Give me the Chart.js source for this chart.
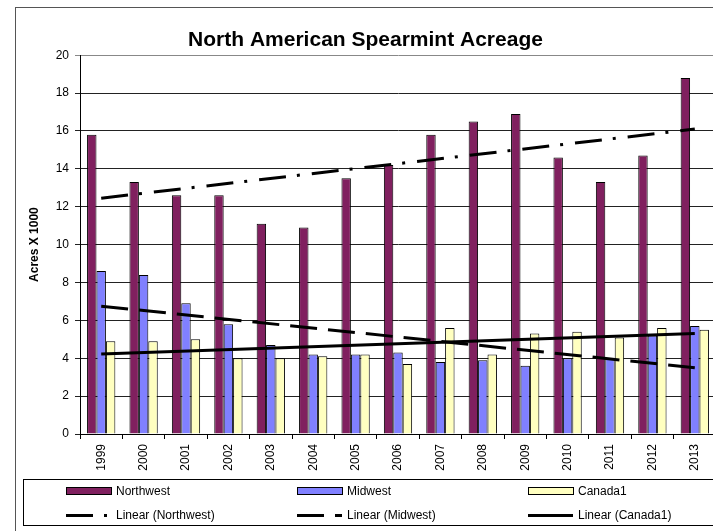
<!DOCTYPE html>
<html>
<head>
<meta charset="utf-8">
<script src="https://cdn.jsdelivr.net/npm/chart.js@4.4.0/dist/chart.umd.min.js"></script>
<style>
html, body { margin: 0; padding: 0; background: #fff; overflow: hidden; }
#wrap { position: absolute; left: 0; top: 0; width: 730px; height: 540px; }
</style>
</head>
<body>
<div id="wrap"><canvas id="chart" width="730" height="540"></canvas></div>
<script>
var years = ['1999', '2000', '2001', '2002', '2003', '2004', '2005', '2006', '2007', '2008', '2009', '2010', '2011', '2012', '2013'];
var northwest = [15.8, 13.3, 12.6, 12.6, 11.1, 10.9, 13.5, 14.2, 15.8, 16.5, 16.9, 14.6, 13.3, 14.7, 18.8];
var midwest = [8.6, 8.4, 6.9, 5.8, 4.7, 4.2, 4.2, 4.3, 3.8, 3.9, 3.6, 4.0, 4.0, 5.2, 5.7];
var canada = [4.9, 4.9, 5.0, 4.0, 4.0, 4.1, 4.2, 3.7, 5.6, 4.2, 5.3, 5.4, 5.1, 5.6, 5.5];
// trendline values at first and last year
var trendNorthwest = [12.45, 16.1];
var trendMidwest = [6.75, 3.5];
var trendCanada = [4.22, 5.31];
var yTicks = [0, 20, 2];

Chart.defaults.font.family = 'Arial, "Liberation Sans", sans-serif';
Chart.defaults.color = '#000';

var trend = function(ends) {
	return [{ x: years[0], y: ends[0] }, { x: years[years.length - 1], y: ends[1] }];
};

var frame = {
	id: 'frame',
	beforeDraw: function(chart) {
		var ctx = chart.ctx;
		ctx.save();
		ctx.strokeStyle = '#555';
		ctx.lineWidth = 1;
		ctx.strokeRect(15.5, 7.5, 760, 600);
		ctx.restore();
	}
};

var legendBox = {
	id: 'legendBox',
	afterDraw: function(chart) {
		var ctx = chart.ctx;
		var ds = chart.data.datasets;
		var cols = [66, 297, 528];
		ctx.save();
		ctx.strokeStyle = '#000';
		ctx.lineWidth = 1;
		ctx.strokeRect(23.5, 479.5, 720, 46);
		ctx.font = '12px Arial, "Liberation Sans", sans-serif';
		ctx.textBaseline = 'middle';
		for (var i = 0; i < 3; i++) {
			ctx.fillStyle = ds[i].backgroundColor;
			ctx.fillRect(cols[i], 488, 45, 7);
			ctx.strokeRect(cols[i] + 0.5, 487.5, 45, 7);
			ctx.fillStyle = '#000';
			ctx.fillText(ds[i].label, cols[i] + 50, 491.5);
			var t = ds[i + 3];
			ctx.beginPath();
			ctx.setLineDash(t.borderDash || []);
			ctx.lineWidth = 3;
			ctx.moveTo(cols[i], 515.5);
			ctx.lineTo(cols[i] + 45, 515.5);
			ctx.stroke();
			ctx.setLineDash([]);
			ctx.lineWidth = 1;
			ctx.fillText(t.label, cols[i] + 50, 515.5);
		}
		ctx.restore();
	}
};

var ctx = document.getElementById('chart');
var spearmintChart = new Chart(ctx, {
	type: 'bar',
	data: {
		labels: years,
		datasets: [
			{ label: 'Northwest', data: northwest, backgroundColor: '#80205f', borderColor: '#000', borderWidth: 1, order: 1 },
			{ label: 'Midwest', data: midwest, backgroundColor: '#8080ff', borderColor: '#000', borderWidth: 1, order: 1 },
			{ label: 'Canada1', data: canada, backgroundColor: '#ffffc0', borderColor: '#000', borderWidth: 1, order: 1 },
			{ type: 'line', label: 'Linear (Northwest)', data: trend(trendNorthwest), borderColor: '#000', borderWidth: 3, borderDash: [27, 11, 3, 12], pointRadius: 0, fill: false, order: 0 },
			{ type: 'line', label: 'Linear (Midwest)', data: trend(trendMidwest), borderColor: '#000', borderWidth: 3, borderDash: [27, 11], pointRadius: 0, fill: false, order: 0 },
			{ type: 'line', label: 'Linear (Canada1)', data: trend(trendCanada), borderColor: '#000', borderWidth: 3, pointRadius: 0, fill: false, order: 0 }
		]
	},
	options: {
		responsive: false,
		animation: false,
		categoryPercentage: 0.667,
		barPercentage: 1.0,
		layout: { padding: { left: 15, right: 14, top: 22, bottom: 66 } },
		plugins: {
			legend: { display: false },
			tooltip: { enabled: false },
			title: {
				display: true,
				text: 'North American Spearmint Acreage',
				font: { size: 21, weight: 'bold' },
				color: '#000',
				padding: { top: 6, bottom: 2 }
			}
		},
		scales: {
			x: {
				grid: { display: true, drawOnChartArea: false, drawTicks: true, tickLength: 5, color: '#000' },
				border: { display: true, color: '#000' },
				ticks: { autoSkip: false, minRotation: 90, maxRotation: 90, padding: 5, font: { size: 12 } },
				afterFit: function(scale) { scale.height = 40; }
			},
			y: {
				min: yTicks[0],
				max: yTicks[1],
				ticks: { stepSize: yTicks[2], padding: 6, font: { size: 12 } },
				grid: {
					tickLength: 5,
					color: function(c) { return c.tick && c.tick.value === yTicks[1] ? '#888' : '#222'; }
				},
				border: { display: true, color: '#000' },
				title: { display: true, text: 'Acres X 1000', font: { size: 12, weight: 'bold' }, padding: { top: 12, bottom: 0 } },
				afterFit: function(scale) { scale.width = 65; }
			}
		}
	},
	plugins: [frame, legendBox]
});
</script>
</body>
</html>
